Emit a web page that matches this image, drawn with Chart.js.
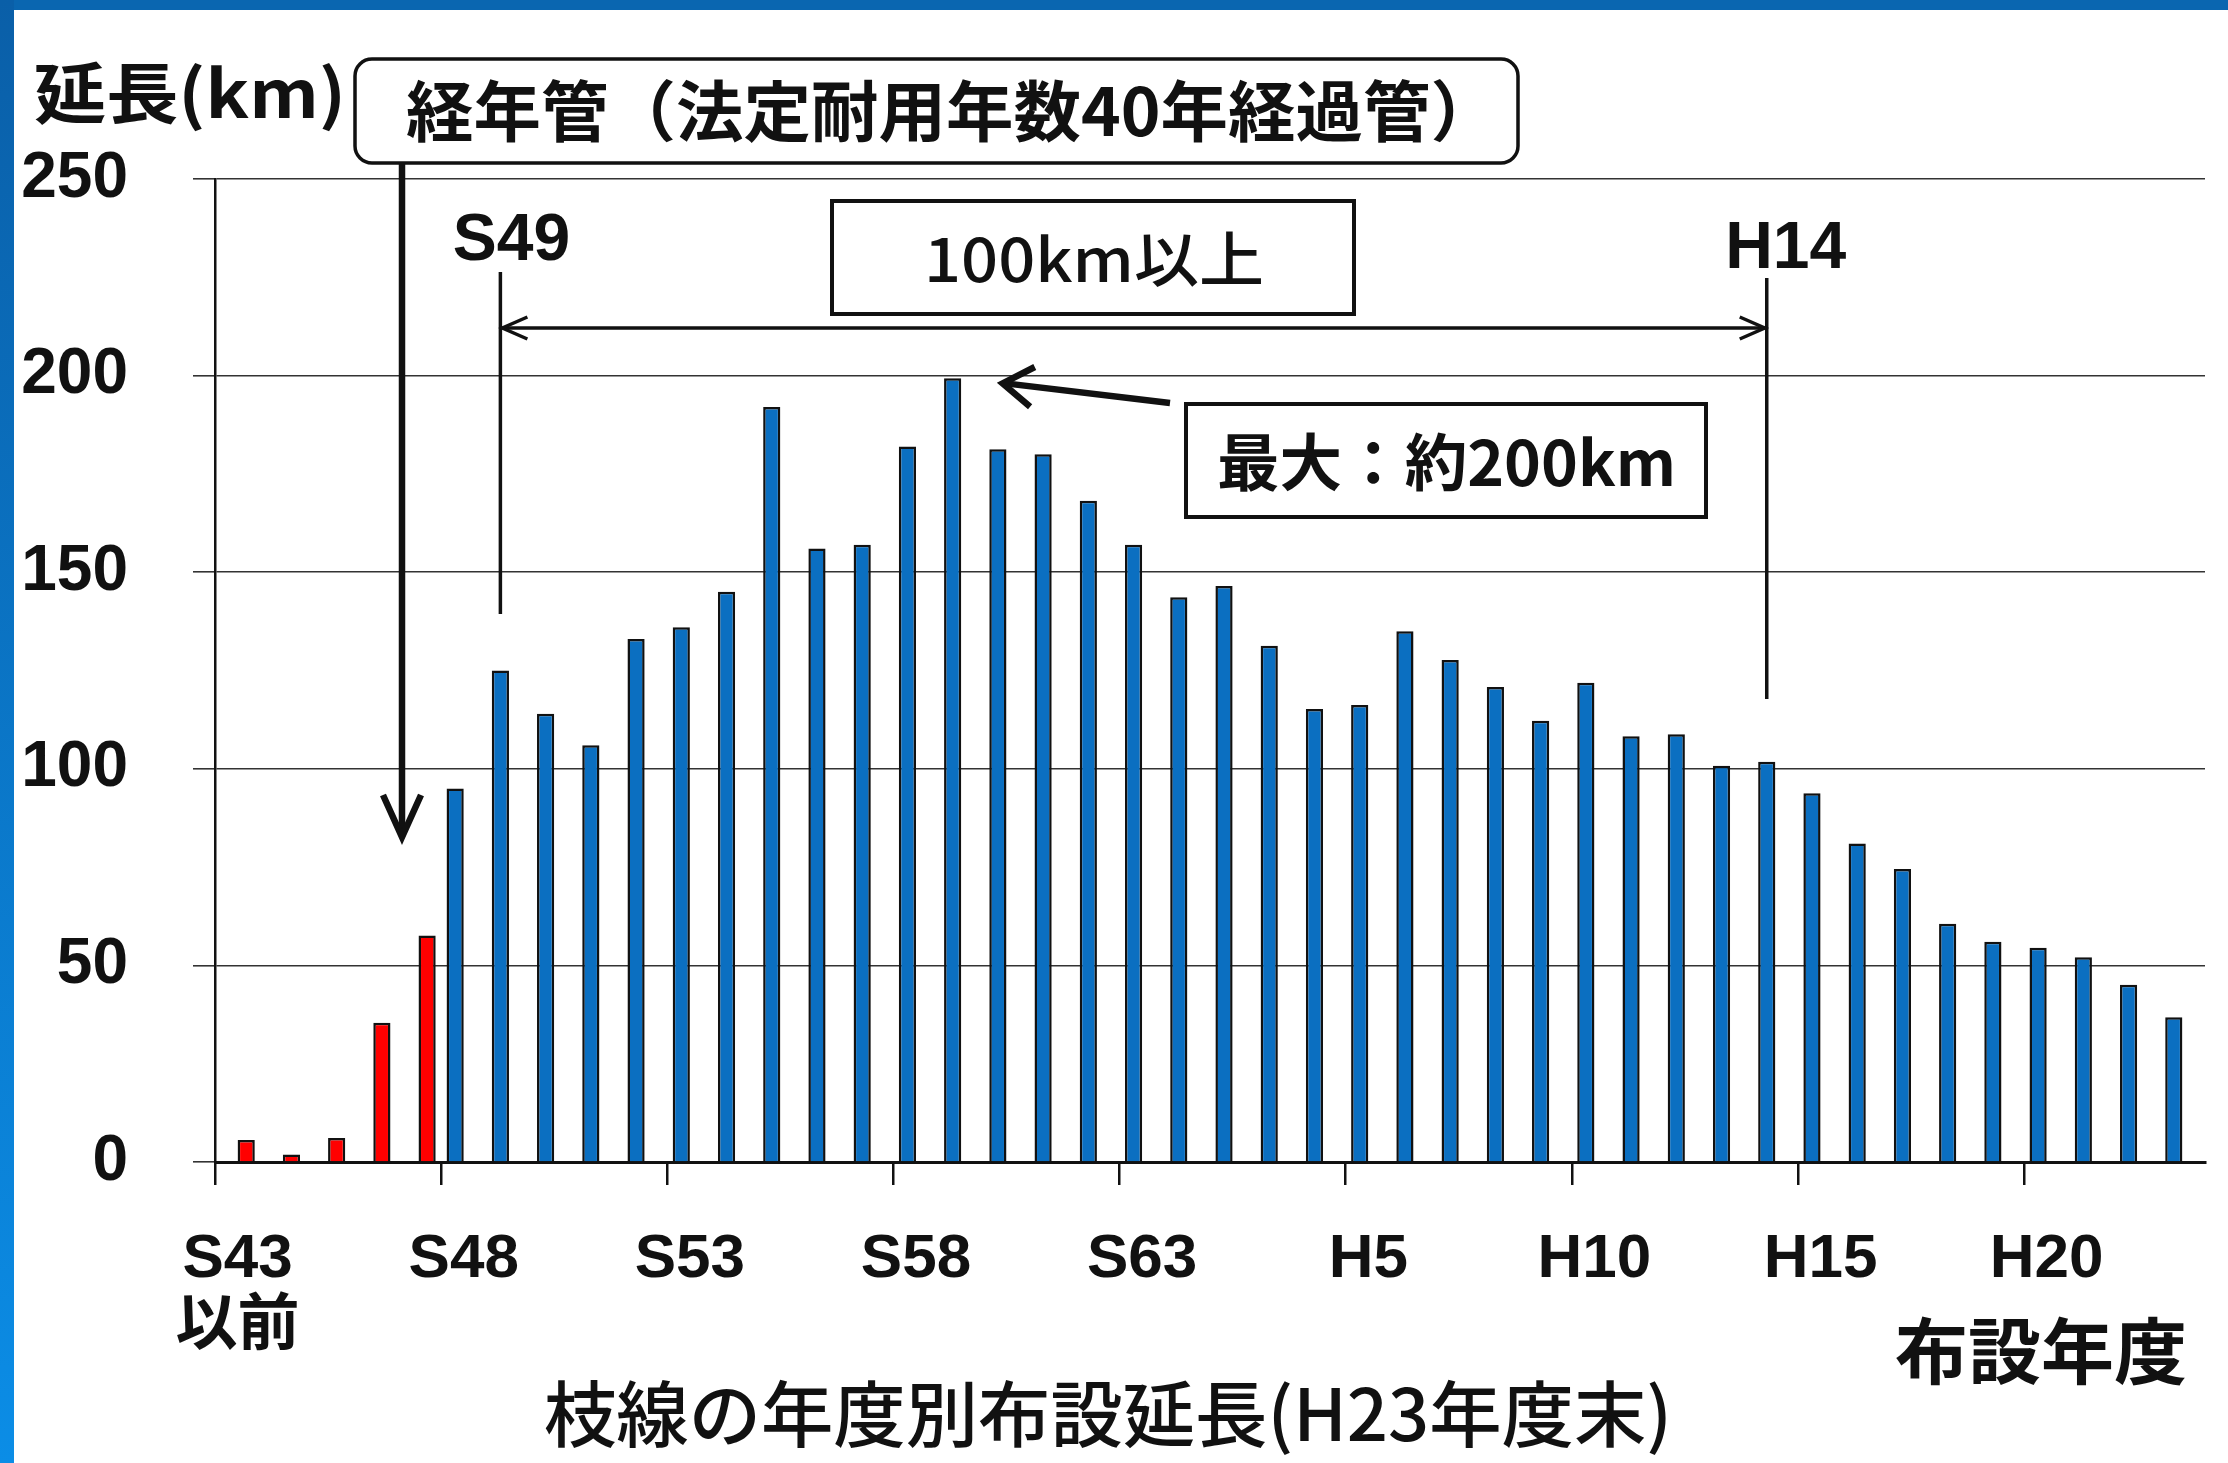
<!DOCTYPE html>
<html lang="ja">
<head>
<meta charset="utf-8">
<title>枝線の年度別布設延長</title>
<script src="https://cdn.jsdelivr.net/npm/chart.js@4.4.1/dist/chart.umd.min.js"></script>
<style>
    html, body { margin: 0; padding: 0; background: #fff; }
    canvas { display: block; }
</style>
</head>
<body>
<canvas id="chart-enchou" width="2228" height="1463"></canvas>
<script>
// 布設年度 (S43以前 .. H23)
const categories = [
    'S43以前', 'S44', 'S45', 'S46', 'S47',
    'S48', 'S49', 'S50', 'S51', 'S52', 'S53', 'S54', 'S55', 'S56', 'S57',
    'S58', 'S59', 'S60', 'S61', 'S62', 'S63',
    'H1', 'H2', 'H3', 'H4', 'H5', 'H6', 'H7', 'H8', 'H9', 'H10',
    'H11', 'H12', 'H13', 'H14', 'H15', 'H16', 'H17', 'H18', 'H19', 'H20',
    'H21', 'H22', 'H23'
];

// 経年管 (S43以前〜S47), km
const agedLengths = [5.6, 1.9, 6.1, 35.4, 57.6];

// S48〜S63, km
const showaLengths = [95, 125, 114, 106, 133, 136, 145, 192, 156, 157, 182, 199.3, 181.3, 180, 168.2, 157];

// H1〜H23, km
const heiseiLengths = [143.6, 146.5, 131.3, 115.2, 116.2, 135, 127.7, 120.8, 112.2, 121.9,
    108.3, 108.8, 100.8, 101.8, 93.8, 81, 74.5, 60.6, 56, 54.5, 52.1, 45.1, 36.8];

const yTicks = [0, 50, 100, 150, 200, 250];

const LATIN = "'Liberation Sans', 'Noto Sans CJK JP', sans-serif";
const CJK = "'Noto Sans CJK JP', sans-serif";
const INK = '#111111';

const otherLengths = showaLengths.concat(heiseiLengths);
const blueData = agedLengths.map(() => null).concat(otherLengths);
const redData = agedLengths.concat(otherLengths.map(() => null));

// text squeezed/stretched to a given width, left edge at x, vertical middle at y
function fittedText(ctx, text, x, y, width, font) {
    ctx.save();
    ctx.font = font;
    const w = ctx.measureText(text).width;
    ctx.translate(x, y);
    ctx.scale(width / w, 1);
    ctx.textAlign = 'left';
    ctx.textBaseline = 'middle';
    ctx.fillText(text, 0, 0);
    ctx.restore();
}

function arrowHead(ctx, tipX, tipY, fromX, fromY, len, half) {
    const d = Math.hypot(tipX - fromX, tipY - fromY);
    const ux = (tipX - fromX) / d;
    const uy = (tipY - fromY) / d;
    const bx = tipX - ux * len;
    const by = tipY - uy * len;
    ctx.beginPath();
    ctx.moveTo(bx - uy * half, by + ux * half);
    ctx.lineTo(tipX, tipY);
    ctx.lineTo(bx + uy * half, by - ux * half);
    ctx.stroke();
}

function line(ctx, x1, y1, x2, y2) {
    ctx.beginPath();
    ctx.moveTo(x1, y1);
    ctx.lineTo(x2, y2);
    ctx.stroke();
}

function roundRect(ctx, x, y, w, h, r) {
    ctx.beginPath();
    ctx.moveTo(x + r, y);
    ctx.arcTo(x + w, y, x + w, y + h, r);
    ctx.arcTo(x + w, y + h, x, y + h, r);
    ctx.arcTo(x, y + h, x, y, r);
    ctx.arcTo(x, y, x + w, y, r);
    ctx.closePath();
    ctx.stroke();
}

const decorations = {
    id: 'decorations',
    beforeDraw(chart) {
        const ctx = chart.ctx;
        const { width, height } = chart;
        ctx.save();
        ctx.fillStyle = '#ffffff';
        ctx.fillRect(0, 0, width, height);
        ctx.fillStyle = '#0a66b0';
        ctx.fillRect(0, 0, width, 10);
        const side = ctx.createLinearGradient(0, 0, 0, height);
        side.addColorStop(0, '#0a5fa8');
        side.addColorStop(1, '#0b8de6');
        ctx.fillStyle = side;
        ctx.fillRect(0, 0, 14, height);
        ctx.restore();
    },
    afterDraw(chart) {
        const ctx = chart.ctx;
        const blue = chart.getDatasetMeta(0).data;
        const s49 = blue[categories.indexOf('S49')];
        const h14 = blue[categories.indexOf('H14')];
        const peak = blue[categories.indexOf('S59')];

        ctx.save();
        ctx.fillStyle = INK;
        ctx.strokeStyle = INK;
        ctx.lineJoin = 'miter';

        // axis title
        fittedText(ctx, '延長(km)', 34, 93, 312, 'bold 66px ' + CJK);

        // 経年管 box + arrow
        ctx.lineWidth = 3.5;
        roundRect(ctx, 355, 59, 1163, 104, 17);
        fittedText(ctx, '経年管（法定耐用年数40年経過管）', 406, 111, 1092, 'bold 66px ' + CJK);
        ctx.lineWidth = 6.5;
        line(ctx, 402, 163, 402, 834);
        arrowHead(ctx, 402, 837, 402, 163, 42, 19);

        // S49 / H14 markers
        ctx.font = 'bold 66px ' + LATIN;
        ctx.textAlign = 'center';
        ctx.textBaseline = 'alphabetic';
        ctx.fillText('S49', s49.x + 11, 260);
        ctx.fillText('H14', h14.x + 19, 268);
        ctx.lineWidth = 3.5;
        line(ctx, s49.x, 272, s49.x, 614);
        line(ctx, h14.x, 278, h14.x, 699);
        line(ctx, s49.x + 2, 328, h14.x - 2, 328);
        arrowHead(ctx, s49.x + 2, 328, h14.x, 328, 25, 11);
        arrowHead(ctx, h14.x - 2, 328, s49.x, 328, 25, 11);

        // 100km以上
        ctx.lineWidth = 4;
        ctx.strokeRect(832, 201, 522, 113);
        fittedText(ctx, '100km以上', 924, 259, 340, '500 60px ' + CJK);

        // 最大
        ctx.strokeRect(1186, 404, 520, 113);
        fittedText(ctx, '最大：約200km', 1217, 462, 459, 'bold 62px ' + CJK);
        ctx.lineWidth = 6.5;
        const tipX = peak.x + 50;
        const tipY = peak.y + 5;
        line(ctx, 1170, 403, tipX + 3, tipY);
        arrowHead(ctx, tipX, tipY, 1170, 403, 30, 20);

        // x axis title and caption
        fittedText(ctx, '布設年度', 1895, 1351, 292, 'bold 72px ' + CJK);
        fittedText(ctx, '枝線の年度別布設延長(H23年度末)', 544, 1414, 1128, '500 72px ' + CJK);
        ctx.restore();
    }
};

new Chart(document.getElementById('chart-enchou'), {
    type: 'bar',
    data: {
        labels: categories,
        datasets: [
            {
                label: '経年管以外',
                data: blueData,
                backgroundColor: '#0b6fc1',
                borderColor: INK,
                borderWidth: 2.5
            },
            {
                label: '経年管',
                data: redData,
                backgroundColor: '#ff0000',
                borderColor: INK,
                borderWidth: 2.5
            }
        ]
    },
    options: {
        responsive: false,
        animation: false,
        events: [],
        layout: { padding: { left: 0, top: 179, right: 23, bottom: 0 } },
        datasets: { bar: { categoryPercentage: 0.76, barPercentage: 1 } },
        plugins: {
            legend: { display: false },
            tooltip: { enabled: false }
        },
        scales: {
            x: {
                offset: true,
                grid: {
                    offset: true,
                    drawOnChartArea: false,
                    tickLength: 23,
                    lineWidth: 2.5,
                    color(context) {
                        return context.index % 5 === 0 ? INK : 'rgba(0,0,0,0)';
                    }
                },
                border: { display: true, color: INK, width: 3 },
                ticks: {
                    autoSkip: false,
                    maxRotation: 0,
                    padding: 40,
                    color: INK,
                    font: { family: LATIN, size: 62, weight: 'bold', lineHeight: 1.11 },
                    callback(value, index) {
                        if (index % 5 !== 0) return '';
                        const label = categories[index];
                        return label.endsWith('以前') ? [label.slice(0, -2), '以前'] : label;
                    }
                },
                afterFit(scale) {
                    scale.height = 301;
                }
            },
            y: {
                min: yTicks[0],
                max: yTicks[yTicks.length - 1],
                afterBuildTicks(scale) {
                    scale.ticks = yTicks.map(value => ({ value }));
                },
                grid: { color: '#333333', lineWidth: 1.6, tickLength: 22 },
                border: { display: true, color: INK, width: 2.5 },
                ticks: {
                    padding: 65,
                    color: INK,
                    font: { family: LATIN, size: 64, weight: 'bold' }
                },
                afterFit(scale) {
                    scale.width = 215;
                }
            }
        }
    },
    plugins: [decorations]
});
</script>
</body>
</html>
